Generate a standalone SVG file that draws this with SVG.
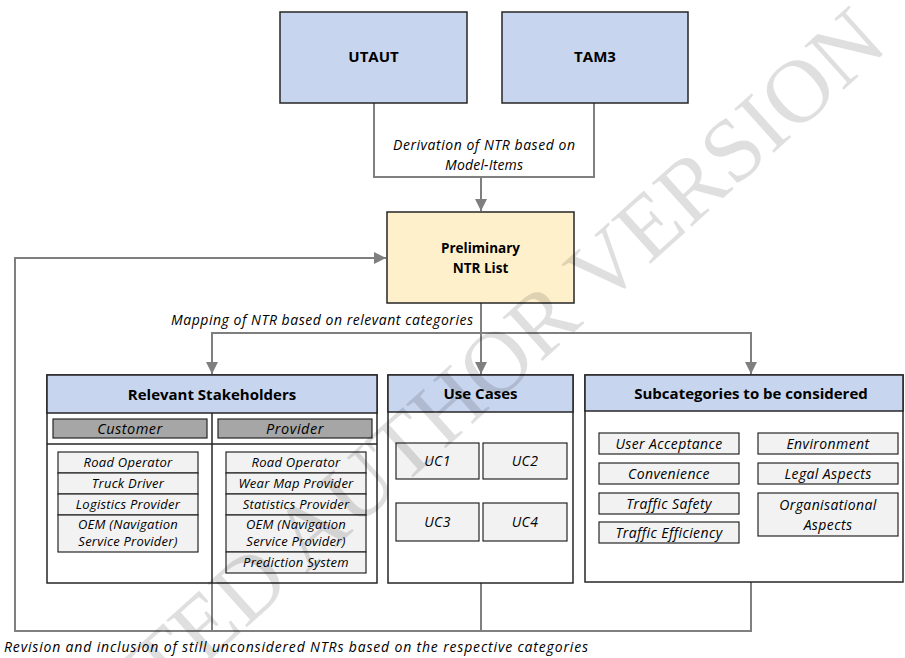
<svg xmlns="http://www.w3.org/2000/svg" width="905" height="658" viewBox="0 0 905 658">
  <style>
    .box { stroke: #262626; stroke-width: 1.5; }
    .model { fill: #c8d5ee; }
    .ntr { fill: #fff0cc; }
    .head { fill: #c8d5ee; stroke: #262626; stroke-width: 1.5; }
    .panel { fill: #ffffff; stroke: #262626; stroke-width: 1.5; }
    .role { fill: #a6a6a6; stroke: #262626; stroke-width: 1.2; }
    .item { fill: #f2f2f2; stroke: #262626; stroke-width: 1.2; }
    .conn { fill: none; stroke: #7f7f7f; stroke-width: 2; }
    .t { font-family: "Open Sans", "Liberation Sans", sans-serif; fill: #000; }
    .b { font-weight: bold; text-anchor: middle; font-size: 15px; }
    .i { font-style: italic; }
    .c { text-anchor: middle; }
    .sh { font-size: 13px; letter-spacing: 0.25px; }
    .sc { font-size: 14px; letter-spacing: 0.4px; }
    .uc { font-size: 14px; letter-spacing: 0.4px; }
    .rl { font-size: 14.5px; letter-spacing: 0.5px; }
    .lb { font-size: 14px; }
    .wm { font-family: "Liberation Serif", serif; font-size: 90px; fill: #000; opacity: 0.12; }
  </style>
  <defs>
    <marker id="arrow" markerUnits="userSpaceOnUse" markerWidth="12" markerHeight="12" viewBox="0 0 12 12" refX="12" refY="6" orient="auto">
      <path d="M0,0 L12,6 L0,12 Z" fill="#7f7f7f"/>
    </marker>
  </defs>

  <!-- connectors -->
  <g id="connectors">
    <path class="conn" d="M374,103 V177 H594 V103"/>
    <path class="conn" d="M481,177 V211" marker-end="url(#arrow)"/>
    <path class="conn" d="M481,303 V374" marker-end="url(#arrow)"/>
    <path class="conn" d="M481,333 H212 V374" marker-end="url(#arrow)"/>
    <path class="conn" d="M481,333 H751 V374" marker-end="url(#arrow)"/>
    <path class="conn" d="M212,583 V631 M481,583 V631"/>
    <path class="conn" d="M751,582 V631 H15 V258 H386" marker-end="url(#arrow)"/>
  </g>

  <!-- connector labels -->
  <g id="labels">
    <text class="t i c lb" x="484" y="150" textLength="182">Derivation of NTR based on</text>
    <text class="t i c lb" x="484" y="170" textLength="78">Model-Items</text>
    <text class="t i lb" x="171" y="325" textLength="302">Mapping of NTR based on relevant categories</text>
    <text class="t i lb" x="4" y="652" textLength="584">Revision and inclusion of still unconsidered NTRs based on the respective categories</text>
  </g>

  <g id="utaut">
    <rect class="box model" x="280" y="12" width="187" height="91"/>
    <text class="t b" x="373.5" y="62">UTAUT</text>
  </g>

  <g id="tam3">
    <rect class="box model" x="502" y="12" width="186" height="91"/>
    <text class="t b" x="595" y="62">TAM3</text>
  </g>

  <g id="ntr-list">
    <rect class="box ntr" x="387" y="212" width="187" height="91"/>
    <text class="t b" x="480.5" y="253" style="font-size:13.5px">Preliminary</text>
    <text class="t b" x="480.5" y="273" style="font-size:13.5px">NTR List</text>
  </g>

  <g id="stakeholders">
    <rect class="panel" x="47" y="375" width="330" height="208"/>
    <rect class="head" x="47" y="375" width="330" height="38"/>
    <text class="t b" x="212" y="400">Relevant Stakeholders</text>
    <line x1="47" y1="444" x2="377" y2="444" stroke="#262626" stroke-width="1.5"/>
    <line x1="212" y1="413" x2="212" y2="583" stroke="#262626" stroke-width="1.5"/>
    <rect class="role" x="53" y="419" width="154" height="19"/>
    <text class="t i c rl" x="130" y="434">Customer</text>
    <rect class="role" x="218" y="419" width="154" height="19"/>
    <text class="t i c rl" x="295" y="434">Provider</text>

    <g id="customer-items">
      <rect class="item" x="58" y="452" width="140" height="21"/>
      <text class="t i c sh" x="128" y="467">Road Operator</text>
      <rect class="item" x="58" y="473" width="140" height="21"/>
      <text class="t i c sh" x="128" y="488">Truck Driver</text>
      <rect class="item" x="58" y="494" width="140" height="21"/>
      <text class="t i c sh" x="128" y="509">Logistics Provider</text>
      <rect class="item" x="58" y="515" width="140" height="37"/>
      <text class="t i c sh" x="128" y="529">OEM (Navigation</text>
      <text class="t i c sh" x="128" y="546">Service Provider)</text>
    </g>

    <g id="provider-items">
      <rect class="item" x="226" y="452" width="140" height="21"/>
      <text class="t i c sh" x="296" y="467">Road Operator</text>
      <rect class="item" x="226" y="473" width="140" height="21"/>
      <text class="t i c sh" x="296" y="488">Wear Map Provider</text>
      <rect class="item" x="226" y="494" width="140" height="21"/>
      <text class="t i c sh" x="296" y="509">Statistics Provider</text>
      <rect class="item" x="226" y="515" width="140" height="37"/>
      <text class="t i c sh" x="296" y="529">OEM (Navigation</text>
      <text class="t i c sh" x="296" y="546">Service Provider)</text>
      <rect class="item" x="226" y="552" width="140" height="21"/>
      <text class="t i c sh" x="296" y="567">Prediction System</text>
    </g>
  </g>

  <g id="use-cases">
    <rect class="panel" x="388" y="375" width="185" height="208"/>
    <rect class="head" x="388" y="375" width="185" height="37"/>
    <text class="t b" x="480.5" y="399">Use Cases</text>
    <rect class="item" x="396" y="443" width="83" height="36"/>
    <text class="t i c uc" x="437.5" y="466">UC1</text>
    <rect class="item" x="483" y="443" width="84" height="36"/>
    <text class="t i c uc" x="525" y="466">UC2</text>
    <rect class="item" x="396" y="503" width="83" height="38"/>
    <text class="t i c uc" x="437.5" y="527">UC3</text>
    <rect class="item" x="483" y="503" width="84" height="38"/>
    <text class="t i c uc" x="525" y="527">UC4</text>
  </g>

  <g id="subcategories">
    <rect class="panel" x="585" y="375" width="318" height="207"/>
    <rect class="head" x="585" y="375" width="318" height="36"/>
    <text class="t b" x="751" y="399">Subcategories to be considered</text>
    <rect class="item" x="599" y="433" width="140" height="21"/>
    <text class="t i c sc" x="669" y="449">User Acceptance</text>
    <rect class="item" x="599" y="463" width="140" height="21"/>
    <text class="t i c sc" x="669" y="479">Convenience</text>
    <rect class="item" x="599" y="493" width="140" height="21"/>
    <text class="t i c sc" x="669" y="509">Traffic Safety</text>
    <rect class="item" x="599" y="522" width="140" height="21"/>
    <text class="t i c sc" x="669" y="538">Traffic Efficiency</text>
    <rect class="item" x="758" y="433" width="140" height="21"/>
    <text class="t i c sc" x="828" y="449">Environment</text>
    <rect class="item" x="758" y="463" width="140" height="21"/>
    <text class="t i c sc" x="828" y="479">Legal Aspects</text>
    <rect class="item" x="758" y="493" width="140" height="43"/>
    <text class="t i c sc" x="828" y="510">Organisational</text>
    <text class="t i c sc" x="828" y="530">Aspects</text>
  </g>

  <!-- faint diagonal watermark -->
  <text class="wm" x="890" y="48" text-anchor="end" transform="rotate(-42 890 48)">ACCEPTED AUTHOR VERSION</text>
</svg>
